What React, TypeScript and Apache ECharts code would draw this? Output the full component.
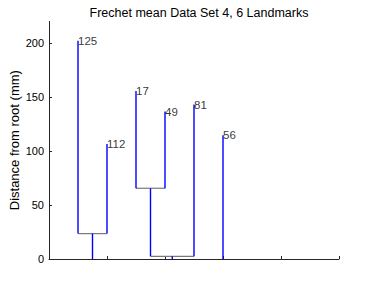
import React, { useEffect, useRef } from "react";
import * as echarts from "echarts";

const titleText = "Frechet mean Data Set 4, 6 Landmarks";
const yAxisName = "Distance from root (mm)";
const leafLabels = ["125", "112", "17", "49", "81", "56"];
const leafPositions = [0.5, 1, 1.5, 2, 2.5, 3];
const leafHeights = [202, 106.5, 155.5, 136.5, 143, 114.5];
// merge nodes get ids 6, 7, 8, 9 after the six leaves
const mergeChildren = [[0, 1], [2, 3], [7, 4], [6, 8, 5]];
const mergeHeights = [23.5, 65.5, 2.5, 0];
const xTicks = [1, 2, 3, 4, 5];
const yTicks = [0, 50, 100, 150, 200];

function buildSegments() {
  const n = leafLabels.length;
  const xs: number[] = [...leafPositions];
  const hs: number[] = [...leafHeights];
  const parent: number[] = new Array(n + mergeChildren.length).fill(-1);
  mergeChildren.forEach((ch, i) => {
    const id = n + i;
    const cx = ch.map((c) => xs[c]);
    xs[id] = cx.slice(0, 2).reduce((a, b) => a + b, 0) / 2;
    hs[id] = mergeHeights[i];
    ch.forEach((c) => (parent[c] = id));
  });
  const verts: number[][] = [];
  const horiz: number[][] = [];
  for (let id = 0; id < xs.length; id++) {
    if (parent[id] >= 0) verts.push([xs[id], hs[id], xs[id], hs[parent[id]]]);
  }
  mergeChildren.forEach((ch, i) => {
    if (mergeHeights[i] > 0) {
      const cx = ch.map((c) => xs[c]);
      horiz.push([Math.min(...cx), mergeHeights[i], Math.max(...cx), mergeHeights[i]]);
    }
  });
  return { verts, horiz };
}

export default function App() {
  const ref = useRef<HTMLDivElement>(null);
  useEffect(() => {
    const chart = echarts.init(ref.current!, null, { renderer: "svg" });
    const { verts, horiz } = buildSegments();
    const lineSeries = (data: number[][], color: string, width: number, z: number) => ({
      type: "custom",
      z,
      renderItem: (params: any, api: any) => {
        const p1 = api.coord([api.value(0), api.value(1)]);
        const p2 = api.coord([api.value(2), api.value(3)]);
        return {
          type: "line",
          shape: { x1: p1[0], y1: p1[1], x2: p2[0], y2: p2[1] },
          style: { stroke: color, lineWidth: width },
        };
      },
      encode: { x: [0, 2], y: [1, 3] },
      data,
    });
    const textStyle = { fontFamily: "Liberation Sans, Arial, sans-serif", color: "#000" };
    chart.setOption({
      animation: false,
      title: {
        text: titleText,
        left: 194,
        textAlign: "center",
        top: 1,
        textStyle: { ...textStyle, fontSize: 12.5, fontWeight: "normal" },
      },
      grid: { left: 49, top: 21.4, width: 290, height: 237.6, outerBoundsMode: "none", containLabel: false },
      xAxis: {
        type: "value",
        min: 0,
        max: 5,
        interval: 1,
        axisLine: { show: true, lineStyle: { color: "#262626", width: 1 } },
        axisTick: { show: true, inside: true, length: 3, customValues: xTicks, lineStyle: { color: "#262626" } },
        axisLabel: { show: false },
        splitLine: { show: false },
      },
      yAxis: {
        type: "value",
        min: 0,
        max: 220,
        interval: 50,
        name: yAxisName,
        nameLocation: "middle",
        nameGap: 28,
        nameMoveOverlap: false,
        nameTextStyle: { ...textStyle, fontSize: 13 },
        axisLine: { show: true, lineStyle: { color: "#262626", width: 1 } },
        axisTick: { show: true, inside: true, length: 3, customValues: yTicks, lineStyle: { color: "#262626" } },
        axisLabel: { ...textStyle, fontSize: 11, margin: 5, customValues: yTicks },
        splitLine: { show: false },
      },
      series: [
        lineSeries(horiz, "#7a7a7a", 1.2, 3),
        lineSeries(verts, "#0000ff", 1.4, 4),
        {
          type: "scatter",
          symbolSize: 0,
          z: 5,
          data: leafPositions.map((x, i) => ({ value: [x, leafHeights[i]], name: leafLabels[i] })),
          label: {
            show: true,
            position: "right",
            distance: 0,
            formatter: (p: any) => p.name,
            ...textStyle,
            fontSize: 11.5,
          },
        },
      ],
    });
    return () => chart.dispose();
  }, []);
  return <div ref={ref} style={{ width: 374, height: 292, position: "absolute", left: 0, top: 0 }} />;
}
